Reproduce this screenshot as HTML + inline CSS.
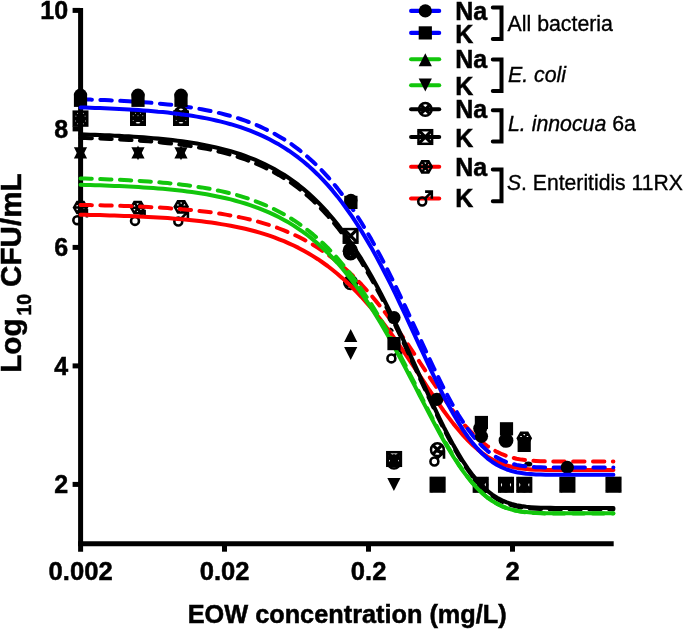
<!DOCTYPE html>
<html lang="en"><head><meta charset="utf-8"><title>EOW concentration vs Log10 CFU/mL</title>
<style>
html,body{margin:0;padding:0;background:#fff;}
body{width:685px;height:629px;overflow:hidden;}
svg{display:block;}
text{font-family:"Liberation Sans",Arial,Helvetica,sans-serif;fill:#000;}
.b{font-weight:bold;font-size:25px;stroke:#000;stroke-width:0.5px;}
.r{font-size:21.3px;stroke:#000;stroke-width:0.35px;}
.i{font-style:italic;}
.mk{fill:#000;stroke:none;}
.mk .o{fill:none;stroke:#000;stroke-width:2.5;}
.mk .o path{stroke-width:3.2;}
.mk .h{fill:none;stroke:#000;stroke-width:2.5;stroke-linejoin:miter;}
.mk .m{fill:none;stroke:#000;stroke-width:2.6;}
.cv{fill:none;stroke-linecap:round;stroke-linejoin:round;}
.ax{fill:none;stroke:#000;stroke-width:5;}
.lg{fill:none;stroke-width:4.1;stroke-linecap:round;}
.br{fill:none;stroke:#000;stroke-width:4;stroke-linecap:round;stroke-linejoin:miter;}
</style></head><body>
<svg width="685" height="629" viewBox="0 0 685 629">
<rect width="685" height="629" fill="#fff"/>
<g>
<g class="mk"><path d="M80.5 145.4l6.6 13h-13.2z"/><path d="M80.5 160.2l6.6 -13h-13.2z"/><path d="M138 145.4l6.6 13h-13.2z"/><path d="M138 160.2l6.6 -13h-13.2z"/><path d="M181 145.4l6.6 13h-13.2z"/><path d="M181 160.2l6.6 -13h-13.2z"/><path class="h" d="M74 207.5l3.2 -5.6h6.5l3.2 5.6l-3.2 5.6h-6.5z M74 207.5h13 M77.2 201.9l6.5 11.2 M77.2 213.1l6.5 -11.2"/><g class="m"><circle cx="77.3" cy="220.2" r="3.95"/><path d="M79.9 217.6l6.5 -6.8M80.2 210.3h6.7v7.1"/></g><path class="h" d="M131.2 207.7l3.2 -5.6h6.5l3.2 5.6l-3.2 5.6h-6.5z M131.2 207.7h13 M134.4 202.1l6.5 11.2 M134.4 213.3l6.5 -11.2"/><g class="m"><circle cx="135" cy="220.9" r="3.95"/><path d="M137.6 218.3l6.5 -6.8M137.9 211h6.7v7.1"/></g><path class="h" d="M174.7 206.8l3.2 -5.6h6.5l3.2 5.6l-3.2 5.6h-6.5z M174.7 206.8h13 M177.9 201.2l6.5 11.2 M177.9 212.4l6.5 -11.2"/><g class="m"><circle cx="178.3" cy="221.5" r="3.95"/><path d="M180.9 218.9l6.5 -6.8M181.2 211.6h6.7v7.1"/></g><g class="o"><rect x="343.8" y="229.1" width="13.6" height="13.6"/><path d="M343.8 229.1l13.6 13.6M343.8 242.7l13.6 -13.6"/></g><g class="o"><circle cx="350.3" cy="250.4" r="6.4"/><path d="M345.8 245.9l9 9M345.8 254.9l9 -9"/></g><g class="o"><circle cx="350.6" cy="252.8" r="6.4"/><path d="M346.1 248.3l9 9M346.1 257.3l9 -9"/></g><path class="h" d="M343.9 251.5l3.2 -5.6h6.5l3.2 5.6l-3.2 5.6h-6.5z M343.9 251.5h13 M347.1 245.9l6.5 11.2 M347.1 257.1l6.5 -11.2"/><g class="o"><circle cx="350.6" cy="282.5" r="6.4"/><path d="M346.1 278l9 9M346.1 287l9 -9"/></g><path d="M350.7 328.9l6.6 13h-13.2z"/><path d="M350.7 360l6.6 -13h-13.2z"/><g class="m"><circle cx="391.4" cy="358.4" r="3.95"/><path d="M394 355.8l6.5 -6.8M394.3 348.5h6.7v7.1"/></g><path d="M389.5 328.5q2.5 0 3.5 3" fill="none" stroke="#000" stroke-width="2"/><g class="o"><rect x="387.3" y="452.2" width="13.6" height="13.6"/><path d="M387.3 452.2l13.6 13.6M387.3 465.8l13.6 -13.6"/></g><g class="o"><circle cx="394" cy="462" r="6.4"/><path d="M389.5 457.5l9 9M389.5 466.5l9 -9"/></g><path d="M394 453.4l6.6 13h-13.2z"/><path d="M394 468.2l6.6 -13h-13.2z"/><path d="M393.9 491l6.6 -13h-13.2z"/><g class="o"><circle cx="437.4" cy="449.7" r="6.4"/><path d="M432.9 445.2l9 9M432.9 454.2l9 -9"/></g><g class="m"><circle cx="434.4" cy="461.5" r="3.95"/><path d="M437 458.9l6.5 -6.8M437.3 451.6h6.7v7.1"/></g><g class="o"><rect x="430.8" y="477.9" width="13.6" height="13.6"/><path d="M430.8 477.9l13.6 13.6M430.8 491.5l13.6 -13.6"/></g><g class="o"><rect x="473.9" y="478" width="13.6" height="13.6"/><path d="M473.9 478l13.6 13.6M473.9 491.6l13.6 -13.6"/></g><path d="M480.7 477.4l6.6 13h-13.2z"/><path d="M480.7 492.2l6.6 -13h-13.2z"/><g class="o"><circle cx="480.7" cy="484.8" r="6.4"/><path d="M476.2 480.3l9 9M476.2 489.3l9 -9"/></g><g class="o"><rect x="499.2" y="478" width="13.6" height="13.6"/><path d="M499.2 478l13.6 13.6M499.2 491.6l13.6 -13.6"/></g><path d="M506 477.4l6.6 13h-13.2z"/><path d="M506 492.2l6.6 -13h-13.2z"/><g class="o"><circle cx="506" cy="484.8" r="6.4"/><path d="M501.5 480.3l9 9M501.5 489.3l9 -9"/></g><g class="o"><rect x="517.5" y="478" width="13.6" height="13.6"/><path d="M517.5 478l13.6 13.6M517.5 491.6l13.6 -13.6"/></g><path d="M524.3 477.4l6.6 13h-13.2z"/><path d="M524.3 492.2l6.6 -13h-13.2z"/><g class="o"><circle cx="524.3" cy="484.8" r="6.4"/><path d="M519.8 480.3l9 9M519.8 489.3l9 -9"/></g><g class="o"><rect x="560.6" y="477.9" width="13.6" height="13.6"/><path d="M560.6 477.9l13.6 13.6M560.6 491.5l13.6 -13.6"/></g><g class="o"><rect x="606.7" y="477.9" width="13.6" height="13.6"/><path d="M606.7 477.9l13.6 13.6M606.7 491.5l13.6 -13.6"/></g><ellipse cx="528.3" cy="464" rx="4" ry="2.6"/></g>
<g class="ax">
<path d="M80.6 7.9V551.7"/>
<path d="M78.1 543.7H613.7"/>
<path d="M72.6 484.4H80"/>
<path d="M72.6 365.9H80"/>
<path d="M72.6 247.4H80"/>
<path d="M72.6 128.9H80"/>
<path d="M72.6 10.4H80"/>
<path d="M224.5 543V551.7"/>
<path d="M368.5 543V551.7"/>
<path d="M512.5 543V551.7"/>
</g>
<g class="cv">
<path d="M80.5 214.7L85.3 214.8L90.2 214.9L95.0 215.0L99.9 215.1L104.7 215.3L109.6 215.4L114.4 215.5L119.3 215.7L124.1 215.9L128.9 216.0L133.8 216.2L138.6 216.4L143.5 216.7L148.3 216.9L153.2 217.2L158.0 217.5L162.9 217.8L167.7 218.1L172.5 218.5L177.4 218.9L182.2 219.3L187.1 219.7L191.9 220.2L196.8 220.7L201.6 221.3L206.5 221.9L211.3 222.6L216.1 223.3L221.0 224.1L225.8 224.9L230.7 225.8L235.5 226.7L240.4 227.7L245.2 228.8L250.1 230.0L254.9 231.3L259.7 232.7L264.6 234.2L269.4 235.7L274.3 237.4L279.1 239.3L284.0 241.2L288.8 243.3L293.7 245.5L298.5 247.9L303.3 250.5L308.2 253.2L313.0 256.1L317.9 259.2L322.7 262.5L327.6 266.0L332.4 269.8L337.3 273.7L342.1 277.9L346.9 282.3L351.8 287.0L356.6 291.9L361.5 297.0L366.3 302.4L371.2 308.0L376.0 313.9L380.9 320.1L385.7 326.4L390.6 332.9L395.4 339.7L400.2 346.6L405.1 353.7L409.9 360.8L414.8 368.1L419.6 375.4L424.5 382.7L429.3 390.0L434.2 397.1L439.0 404.2L443.8 411.0L448.7 417.6L453.5 423.9L458.4 429.8L463.2 435.4L468.1 440.6L472.9 445.3L477.8 449.6L482.6 453.3L487.4 456.6L492.3 459.5L497.1 461.9L502.0 463.9L506.8 465.5L511.7 466.8L516.5 467.7L521.4 468.5L526.2 469.0L531.0 469.4L535.9 469.7L540.7 469.8L545.6 470.0L550.4 470.0L555.3 470.1L560.1 470.1L565.0 470.1L569.8 470.1L574.6 470.1L579.5 470.1L584.3 470.1L589.2 470.1L594.0 470.1L598.9 470.1L603.7 470.1L608.6 470.1L613.4 470.1" stroke="#ff0000" stroke-width="4.0"/>
<path d="M80.5 204.9L85.3 205.0L90.2 205.1L95.0 205.2L99.9 205.3L104.7 205.4L109.6 205.5L114.4 205.7L119.3 205.8L124.1 206.0L128.9 206.1L133.8 206.3L138.6 206.5L143.5 206.7L148.3 207.0L153.2 207.2L158.0 207.5L162.9 207.8L167.7 208.1L172.5 208.5L177.4 208.8L182.2 209.3L187.1 209.7L191.9 210.2L196.8 210.7L201.6 211.2L206.5 211.8L211.3 212.4L216.1 213.1L221.0 213.8L225.8 214.6L230.7 215.5L235.5 216.4L240.4 217.4L245.2 218.4L250.1 219.6L254.9 220.8L259.7 222.1L264.6 223.6L269.4 225.1L274.3 226.7L279.1 228.5L284.0 230.4L288.8 232.4L293.7 234.5L298.5 236.8L303.3 239.3L308.2 241.9L313.0 244.8L317.9 247.8L322.7 251.0L327.6 254.4L332.4 258.0L337.3 261.8L342.1 265.9L346.9 270.2L351.8 274.7L356.6 279.5L361.5 284.5L366.3 289.8L371.2 295.3L376.0 301.1L380.9 307.1L385.7 313.3L390.6 319.8L395.4 326.4L400.2 333.3L405.1 340.3L409.9 347.4L414.8 354.7L419.6 362.0L424.5 369.4L429.3 376.7L434.2 383.9L439.0 391.1L443.8 398.1L448.7 404.9L453.5 411.4L458.4 417.6L463.2 423.4L468.1 428.9L472.9 433.9L477.8 438.4L482.6 442.5L487.4 446.1L492.3 449.3L497.1 451.9L502.0 454.2L506.8 456.0L511.7 457.5L516.5 458.7L521.4 459.6L526.2 460.2L531.0 460.7L535.9 461.0L540.7 461.2L545.6 461.4L550.4 461.5L555.3 461.5L560.1 461.6L565.0 461.6L569.8 461.6L574.6 461.6L579.5 461.6L584.3 461.6L589.2 461.6L594.0 461.6L598.9 461.6L603.7 461.6L608.6 461.6L613.4 461.6" stroke="#ff0000" stroke-width="4.0" stroke-dasharray="11.38 8.48"/>
<path d="M80.5 99.3L85.3 99.4L90.2 99.6L95.0 99.8L99.9 99.9L104.7 100.1L109.6 100.3L114.4 100.5L119.3 100.8L124.1 101.0L128.9 101.3L133.8 101.6L138.6 101.9L143.5 102.3L148.3 102.6L153.2 103.0L158.0 103.5L162.9 103.9L167.7 104.4L172.5 105.0L177.4 105.6L182.2 106.2L187.1 106.9L191.9 107.6L196.8 108.4L201.6 109.3L206.5 110.2L211.3 111.2L216.1 112.3L221.0 113.4L225.8 114.7L230.7 116.0L235.5 117.4L240.4 119.0L245.2 120.7L250.1 122.5L254.9 124.4L259.7 126.4L264.6 128.7L269.4 131.1L274.3 133.6L279.1 136.4L284.0 139.3L288.8 142.4L293.7 145.8L298.5 149.4L303.3 153.3L308.2 157.4L313.0 161.7L317.9 166.4L322.7 171.3L327.6 176.6L332.4 182.2L337.3 188.1L342.1 194.3L346.9 200.9L351.8 207.8L356.6 215.1L361.5 222.8L366.3 230.8L371.2 239.1L376.0 247.8L380.9 256.9L385.7 266.2L390.6 275.9L395.4 285.7L400.2 295.9L405.1 306.1L409.9 316.6L414.8 327.1L419.6 337.6L424.5 348.1L429.3 358.5L434.2 368.8L439.0 378.7L443.8 388.4L448.7 397.6L453.5 406.4L458.4 414.7L463.2 422.3L468.1 429.4L472.9 435.8L477.8 441.5L482.6 446.5L487.4 450.8L492.3 454.5L497.1 457.6L502.0 460.1L506.8 462.2L511.7 463.7L516.5 464.9L521.4 465.8L526.2 466.4L531.0 466.9L535.9 467.2L540.7 467.3L545.6 467.5L550.4 467.5L555.3 467.6L560.1 467.6L565.0 467.6L569.8 467.6L574.6 467.6L579.5 467.6L584.3 467.6L589.2 467.6L594.0 467.6L598.9 467.6L603.7 467.6L608.6 467.6L613.4 467.6" stroke="#0000ff" stroke-width="4.0" stroke-dasharray="11.40 8.49"/>
<path d="M80.5 137.9L85.3 138.0L90.2 138.2L95.0 138.4L99.9 138.5L104.7 138.7L109.6 138.9L114.4 139.1L119.3 139.4L124.1 139.6L128.9 139.9L133.8 140.2L138.6 140.5L143.5 140.9L148.3 141.2L153.2 141.6L158.0 142.1L162.9 142.6L167.7 143.1L172.5 143.6L177.4 144.2L182.2 144.8L187.1 145.5L191.9 146.3L196.8 147.1L201.6 147.9L206.5 148.8L211.3 149.8L216.1 150.9L221.0 152.1L225.8 153.3L230.7 154.7L235.5 156.1L240.4 157.7L245.2 159.4L250.1 161.2L254.9 163.1L259.7 165.2L264.6 167.4L269.4 169.8L274.3 172.4L279.1 175.1L284.0 178.1L288.8 181.2L293.7 184.6L298.5 188.2L303.3 192.1L308.2 196.2L313.0 200.6L317.9 205.3L322.7 210.3L327.6 215.5L332.4 221.1L337.3 227.1L342.1 233.3L346.9 240.0L351.8 246.9L356.6 254.3L361.5 262.0L366.3 270.0L371.2 278.5L376.0 287.2L380.9 296.3L385.7 305.7L390.6 315.4L395.4 325.4L400.2 335.5L405.1 345.9L409.9 356.4L414.8 367.0L419.6 377.7L424.5 388.2L429.3 398.7L434.2 409.1L439.0 419.1L443.8 428.9L448.7 438.2L453.5 447.1L458.4 455.5L463.2 463.2L468.1 470.4L472.9 476.9L477.8 482.7L482.6 487.8L487.4 492.2L492.3 495.9L497.1 499.1L502.0 501.7L506.8 503.7L511.7 505.3L516.5 506.5L521.4 507.4L526.2 508.1L531.0 508.5L535.9 508.8L540.7 509.0L545.6 509.1L550.4 509.2L555.3 509.3L560.1 509.3L565.0 509.3L569.8 509.3L574.6 509.3L579.5 509.3L584.3 509.3L589.2 509.3L594.0 509.3L598.9 509.3L603.7 509.3L608.6 509.3L613.4 509.3" stroke="#000000" stroke-width="4.1" stroke-dasharray="11.37 8.47"/>
<path d="M80.5 134.4L85.3 134.6L90.2 134.7L95.0 134.9L99.9 135.0L104.7 135.2L109.6 135.4L114.4 135.7L119.3 135.9L124.1 136.2L128.9 136.4L133.8 136.7L138.6 137.0L143.5 137.4L148.3 137.8L153.2 138.2L158.0 138.6L162.9 139.1L167.7 139.6L172.5 140.1L177.4 140.7L182.2 141.4L187.1 142.1L191.9 142.8L196.8 143.6L201.6 144.5L206.5 145.4L211.3 146.4L216.1 147.5L221.0 148.7L225.8 149.9L230.7 151.3L235.5 152.7L240.4 154.3L245.2 156.0L250.1 157.8L254.9 159.7L259.7 161.8L264.6 164.1L269.4 166.5L274.3 169.1L279.1 171.9L284.0 174.8L288.8 178.0L293.7 181.4L298.5 185.0L303.3 188.9L308.2 193.1L313.0 197.5L317.9 202.2L322.7 207.2L327.6 212.5L332.4 218.1L337.3 224.1L342.1 230.4L346.9 237.1L351.8 244.1L356.6 251.5L361.5 259.2L366.3 267.3L371.2 275.8L376.0 284.6L380.9 293.7L385.7 303.2L390.6 312.9L395.4 323.0L400.2 333.2L405.1 343.6L409.9 354.2L414.8 364.9L419.6 375.6L424.5 386.2L429.3 396.8L434.2 407.2L439.0 417.3L443.8 427.1L448.7 436.5L453.5 445.4L458.4 453.8L463.2 461.7L468.1 468.9L472.9 475.4L477.8 481.2L482.6 486.3L487.4 490.8L492.3 494.6L497.1 497.7L502.0 500.3L506.8 502.4L511.7 504.0L516.5 505.2L521.4 506.1L526.2 506.8L531.0 507.2L535.9 507.5L540.7 507.7L545.6 507.8L550.4 507.9L555.3 508.0L560.1 508.0L565.0 508.0L569.8 508.0L574.6 508.0L579.5 508.0L584.3 508.0L589.2 508.0L594.0 508.0L598.9 508.0L603.7 508.0L608.6 508.0L613.4 508.0" stroke="#000000" stroke-width="4.1"/>
<path d="M80.5 178.5L85.3 178.6L90.2 178.8L95.0 178.9L99.9 179.1L104.7 179.2L109.6 179.4L114.4 179.6L119.3 179.8L124.1 180.1L128.9 180.3L133.8 180.6L138.6 180.8L143.5 181.2L148.3 181.5L153.2 181.8L158.0 182.2L162.9 182.7L167.7 183.1L172.5 183.6L177.4 184.1L182.2 184.7L187.1 185.3L191.9 186.0L196.8 186.7L201.6 187.4L206.5 188.3L211.3 189.1L216.1 190.1L221.0 191.1L225.8 192.3L230.7 193.5L235.5 194.7L240.4 196.1L245.2 197.6L250.1 199.2L254.9 201.0L259.7 202.8L264.6 204.8L269.4 206.9L274.3 209.2L279.1 211.7L284.0 214.3L288.8 217.1L293.7 220.2L298.5 223.4L303.3 226.8L308.2 230.5L313.0 234.4L317.9 238.6L322.7 243.0L327.6 247.7L332.4 252.8L337.3 258.1L342.1 263.7L346.9 269.6L351.8 275.8L356.6 282.4L361.5 289.3L366.3 296.5L371.2 304.0L376.0 311.9L380.9 320.0L385.7 328.5L390.6 337.2L395.4 346.1L400.2 355.3L405.1 364.6L409.9 374.1L414.8 383.6L419.6 393.2L424.5 402.8L429.3 412.3L434.2 421.6L439.0 430.7L443.8 439.6L448.7 448.1L453.5 456.2L458.4 463.8L463.2 470.9L468.1 477.4L472.9 483.4L477.8 488.7L482.6 493.4L487.4 497.5L492.3 501.0L497.1 503.9L502.0 506.3L506.8 508.3L511.7 509.8L516.5 510.9L521.4 511.8L526.2 512.4L531.0 512.9L535.9 513.1L540.7 513.3L545.6 513.4L550.4 513.5L555.3 513.6L560.1 513.6L565.0 513.6L569.8 513.6L574.6 513.6L579.5 513.6L584.3 513.6L589.2 513.6L594.0 513.6L598.9 513.6L603.7 513.6L608.6 513.6L613.4 513.6" stroke="#12c60c" stroke-width="4.0" stroke-dasharray="11.30 8.42"/>
<path d="M80.5 184.8L85.3 184.9L90.2 185.0L95.0 185.2L99.9 185.3L104.7 185.5L109.6 185.7L114.4 185.9L119.3 186.1L124.1 186.3L128.9 186.5L133.8 186.8L138.6 187.1L143.5 187.4L148.3 187.7L153.2 188.1L158.0 188.4L162.9 188.8L167.7 189.3L172.5 189.8L177.4 190.3L182.2 190.8L187.1 191.4L191.9 192.1L196.8 192.8L201.6 193.5L206.5 194.3L211.3 195.2L216.1 196.2L221.0 197.2L225.8 198.3L230.7 199.4L235.5 200.7L240.4 202.1L245.2 203.5L250.1 205.1L254.9 206.8L259.7 208.6L264.6 210.6L269.4 212.6L274.3 214.9L279.1 217.3L284.0 219.9L288.8 222.6L293.7 225.6L298.5 228.8L303.3 232.1L308.2 235.7L313.0 239.6L317.9 243.7L322.7 248.0L327.6 252.7L332.4 257.6L337.3 262.8L342.1 268.3L346.9 274.1L351.8 280.2L356.6 286.6L361.5 293.4L366.3 300.4L371.2 307.8L376.0 315.5L380.9 323.5L385.7 331.8L390.6 340.3L395.4 349.1L400.2 358.1L405.1 367.2L409.9 376.5L414.8 385.9L419.6 395.3L424.5 404.6L429.3 413.9L434.2 423.1L439.0 432.1L443.8 440.7L448.7 449.1L453.5 457.0L458.4 464.5L463.2 471.4L468.1 477.8L472.9 483.7L477.8 488.9L482.6 493.5L487.4 497.5L492.3 501.0L497.1 503.8L502.0 506.2L506.8 508.1L511.7 509.6L516.5 510.7L521.4 511.5L526.2 512.1L531.0 512.6L535.9 512.9L540.7 513.0L545.6 513.2L550.4 513.2L555.3 513.3L560.1 513.3L565.0 513.3L569.8 513.3L574.6 513.3L579.5 513.3L584.3 513.3L589.2 513.3L594.0 513.3L598.9 513.3L603.7 513.3L608.6 513.3L613.4 513.3" stroke="#12c60c" stroke-width="4.0"/>
</g>
<g class="mk"><g class="o"><circle cx="181" cy="113.6" r="6.4"/><path d="M176.5 109.1l9 9M176.5 118.1l9 -9"/></g><rect x="72.5" y="110.4" width="16" height="16.4"/><path d="M77.5 113.4h0.01M83.5 113.4h0.01M75.9 116.2h0.01M85.1 116.2h0.01M75.6 121h0.01M85.4 121h0.01M77.5 123.8h0.01M83.5 123.8h0.01" stroke="#fff" stroke-width="1" stroke-linecap="round" fill="none" opacity="0.8"/><rect x="130" y="110.4" width="16" height="15.6"/><ellipse cx="138" cy="122.8" rx="2.3" ry="0.75" fill="#fff"/><path d="M135.6 113.4h0.01M140.4 113.4h0.01M133.2 115.7h0.01M138 115.7h0.01M142.8 115.7h0.01M133.2 120.5h0.01M142.8 120.5h0.01" stroke="#fff" stroke-width="1" stroke-linecap="round" fill="none" opacity="0.8"/><rect x="173" y="110.4" width="16" height="15.6"/><ellipse cx="181" cy="122.8" rx="2.3" ry="0.75" fill="#fff"/><path d="M178.6 113.4h0.01M183.4 113.4h0.01M176.2 115.7h0.01M181 115.7h0.01M185.8 115.7h0.01M176.2 120.5h0.01M185.8 120.5h0.01" stroke="#fff" stroke-width="1" stroke-linecap="round" fill="none" opacity="0.8"/></g>
<g class="mk"><rect x="73.9" y="93.7" width="13.2" height="13.2"/><circle cx="80.5" cy="95.1" r="6.6"/><rect x="131.4" y="93.7" width="13.2" height="13.2"/><circle cx="138" cy="95.1" r="6.6"/><rect x="174.4" y="93.7" width="13.2" height="13.2"/><circle cx="181" cy="95.1" r="6.6"/><rect x="344.3" y="195.8" width="13.2" height="13.2"/><circle cx="350.9" cy="200.4" r="6.6"/><circle cx="394" cy="317.6" r="6.6"/><rect x="387.4" y="337" width="13.2" height="13.2"/><circle cx="436.8" cy="399.3" r="6.6"/><rect x="430.6" y="477.7" width="14" height="14"/><rect x="474.8" y="415.9" width="13.2" height="13.2"/><circle cx="480.2" cy="428.5" r="7"/><circle cx="481.5" cy="436.3" r="6.6"/><rect x="499.9" y="422.2" width="13.2" height="13.2"/><circle cx="506" cy="440.4" r="7.4"/><path class="h" d="M517.8 438.3l3.2 -5.6h6.5l3.2 5.6l-3.2 5.6h-6.5z M517.8 438.3h13 M521 432.7l6.5 11.2 M521 443.9l6.5 -11.2"/><rect x="517.6" y="438.8" width="13.2" height="13.2"/><circle cx="567.3" cy="467.3" r="6.6"/><rect x="560.4" y="477.7" width="14" height="14"/><rect x="606.5" y="477.7" width="14" height="14"/></g>
<g class="cv"><path d="M80.5 107.5L85.3 107.6L90.2 107.8L95.0 108.0L99.9 108.1L104.7 108.3L109.6 108.5L114.4 108.7L119.3 109.0L124.1 109.2L128.9 109.5L133.8 109.8L138.6 110.1L143.5 110.5L148.3 110.8L153.2 111.2L158.0 111.7L162.9 112.1L167.7 112.6L172.5 113.2L177.4 113.8L182.2 114.4L187.1 115.1L191.9 115.8L196.8 116.6L201.6 117.5L206.5 118.4L211.3 119.4L216.1 120.5L221.0 121.6L225.8 122.9L230.7 124.2L235.5 125.7L240.4 127.2L245.2 128.9L250.1 130.7L254.9 132.6L259.7 134.7L264.6 136.9L269.4 139.3L274.3 141.9L279.1 144.6L284.0 147.6L288.8 150.7L293.7 154.1L298.5 157.7L303.3 161.5L308.2 165.6L313.0 170.0L317.9 174.7L322.7 179.6L327.6 184.9L332.4 190.4L337.3 196.4L342.1 202.6L346.9 209.2L351.8 216.1L356.6 223.4L361.5 231.1L366.3 239.1L371.2 247.4L376.0 256.1L380.9 265.2L385.7 274.5L390.6 284.1L395.4 294.0L400.2 304.1L405.1 314.4L409.9 324.8L414.8 335.3L419.6 345.8L424.5 356.2L429.3 366.6L434.2 376.8L439.0 386.7L443.8 396.3L448.7 405.5L453.5 414.2L458.4 422.4L463.2 430.1L468.1 437.1L472.9 443.4L477.8 449.0L482.6 454.0L487.4 458.3L492.3 462.0L497.1 465.0L502.0 467.5L506.8 469.5L511.7 471.0L516.5 472.2L521.4 473.0L526.2 473.7L531.0 474.1L535.9 474.4L540.7 474.5L545.6 474.7L550.4 474.7L555.3 474.8L560.1 474.8L565.0 474.8L569.8 474.8L574.6 474.8L579.5 474.8L584.3 474.8L589.2 474.8L594.0 474.8L598.9 474.8L603.7 474.8L608.6 474.8L613.4 474.8" stroke="#0000ff" stroke-width="4.0"/></g>
<g class="b">
<text x="68.1" y="493.2" text-anchor="end">2</text>
<text x="68.1" y="374.8" text-anchor="end">4</text>
<text x="68.1" y="256.2" text-anchor="end">6</text>
<text x="68.1" y="137.8" text-anchor="end">8</text>
<text x="68.1" y="19.2" text-anchor="end">10</text>
<text x="80.6" y="580.3" text-anchor="middle" style="font-size:25.6px">0.002</text>
<text x="224.6" y="580.3" text-anchor="middle" style="font-size:25.6px">0.02</text>
<text x="368.6" y="580.3" text-anchor="middle" style="font-size:25.6px">0.2</text>
<text x="512.6" y="580.3" text-anchor="middle" style="font-size:25.6px">2</text>
</g>
<text x="347.2" y="623.2" text-anchor="middle" class="b" style="font-size:25.3px">EOW concentration (mg/L)</text>
<text transform="translate(21.2,372.8) rotate(-90)" class="b" style="font-size:29.7px">Log<tspan dx="2.8" dy="9.6" style="font-size:19.5px">10</tspan><tspan dx="-1.4" dy="-9.6"> CFU/mL</tspan></text>
<g id="legend">
<path class="lg" d="M411.1 10.9H439.2" stroke="#0000ff"/>
<g class="mk"><circle cx="425.3" cy="10.9" r="6.6"/></g>
<text x="455.3" y="19.6" class="b">Na</text>
<path class="lg" d="M411.1 32.9H439.2" stroke="#0000ff"/>
<g class="mk"><rect x="418.7" y="26.3" width="13.2" height="13.2"/></g>
<text x="455.3" y="42.6" class="b">K</text>
<path class="lg" d="M411.1 59.2H439.2" stroke="#12c60c"/>
<g class="mk"><path d="M425.3 53.3l6.6 13h-13.2z"/></g>
<text x="455.3" y="68.3" class="b">Na</text>
<path class="lg" d="M411.1 85.3H439.2" stroke="#12c60c"/>
<g class="mk"><path d="M425.3 91.6l6.6 -13h-13.2z"/></g>
<text x="455.3" y="94.6" class="b">K</text>
<path class="lg" d="M411.1 109.3H439.2" stroke="#000000"/>
<g class="mk"><g class="o"><circle cx="425.3" cy="109.3" r="6.4"/><path d="M420.8 104.8l9 9M420.8 113.8l9 -9"/></g></g>
<text x="455.3" y="118.3" class="b">Na</text>
<path class="lg" d="M411.1 137.0H439.2" stroke="#000000"/>
<g class="mk"><g class="o"><rect x="418.5" y="130.2" width="13.6" height="13.6"/><path d="M418.5 130.2l13.6 13.6M418.5 143.8l13.6 -13.6"/></g></g>
<text x="455.3" y="146.7" class="b">K</text>
<path class="lg" d="M411.1 166.8H439.2" stroke="#ff0000"/>
<g class="mk"><path class="h" d="M418.8 166.8l3.2 -5.6h6.5l3.2 5.6l-3.2 5.6h-6.5z M418.8 166.8h13 M422.1 161.2l6.5 11.2 M422.1 172.4l6.5 -11.2"/></g>
<text x="455.3" y="176.1" class="b">Na</text>
<path class="lg" d="M411.1 198.5H439.2" stroke="#ff0000"/>
<g class="mk"><g class="m"><circle cx="422.2" cy="201.5" r="3.95"/><path d="M424.8 198.9l6.5 -6.8M425.1 191.6h6.7v7.1"/></g></g>
<text x="455.3" y="207.1" class="b">K</text>
<path class="br" d="M492.8 7.4H501.5V38.9H492.8"/>
<path class="br" d="M492.8 59.5H501.5V91.1H492.8"/>
<path class="br" d="M492.8 110.2H501.5V141.4H492.8"/>
<path class="br" d="M492.8 169.4H501.5V201.3H492.8"/>
<text x="507.6" y="30.6" class="r">All bacteria</text>
<text x="508" y="82" class="r"><tspan class="i">E. coli</tspan></text>
<text x="508" y="131.4" class="r"><tspan class="i">L. innocua</tspan> 6a</text>
<text x="507" y="189.6" class="r" style="font-size:21.15px"><tspan class="i">S</tspan>. Enteritidis 11RX</text>
</g>
</g>
</svg></body></html>
